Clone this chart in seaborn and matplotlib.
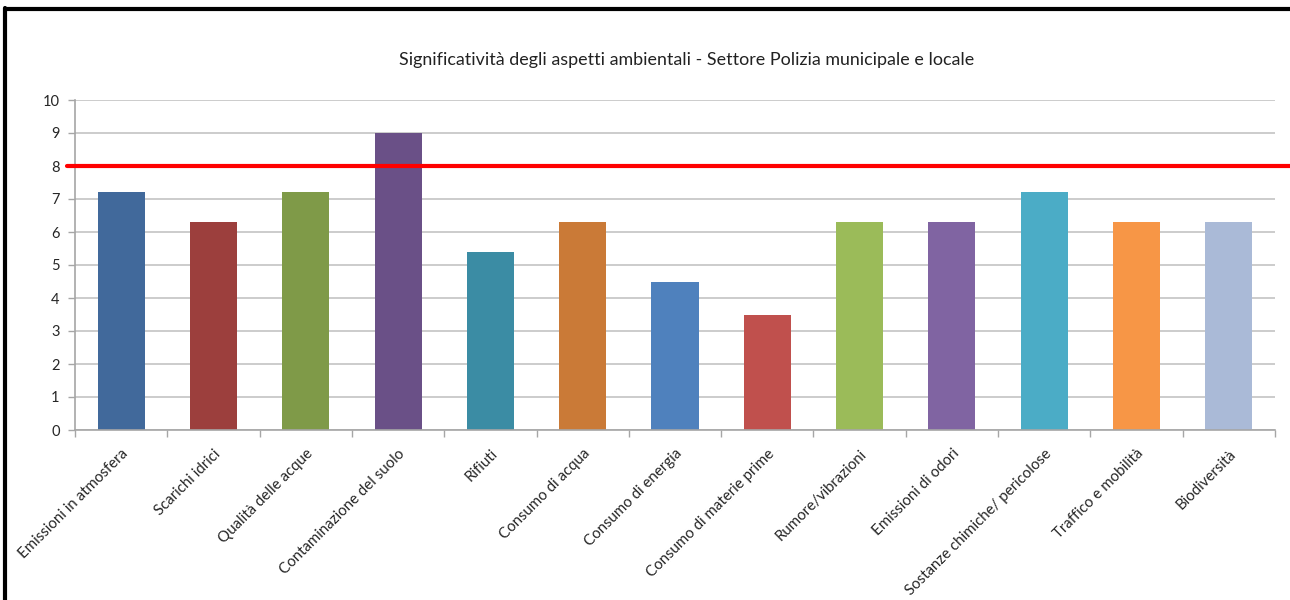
import matplotlib
matplotlib.use("Agg")
import matplotlib.pyplot as plt
from matplotlib.lines import Line2D
import seaborn as sns
import pandas as pd
import numpy as np

categories = [
    "Emissioni in atmosfera", "Scarichi idrici", "Qualità delle acque",
    "Contaminazione del suolo", "Rifiuti", "Consumo di acqua",
    "Consumo di energia", "Consumo di materie prime", "Rumore/vibrazioni",
    "Emissioni di odori", "Sostanze chimiche/ pericolose", "Traffico e mobilità",
    "Biodiversità",
]
values = [7.2, 6.3, 7.2, 9.0, 5.4, 6.3, 4.5, 3.5, 6.3, 6.3, 7.2, 6.3, 6.3]
threshold = 8
title = "Significatività degli aspetti ambientali - Settore Polizia municipale e locale"

colors = [
    "#41699B", "#9C3F3D", "#7F9A48", "#6A5087", "#3B8CA4", "#CA7A37",
    "#4F81BD", "#C0504D", "#9BBB59", "#8064A2", "#4BACC6", "#F79646",
    "#AABAD7",
]

sns.set_theme(style="white")
plt.rcParams["font.family"] = ["Lato", "DejaVu Sans"]

df = pd.DataFrame({"aspetto": categories, "valore": values})

fig = plt.figure(figsize=(12.9, 6), dpi=100)
ax = fig.add_axes([75 / 1290, 170 / 600, 1200 / 1290, 330 / 600])

sns.barplot(data=df, x="aspetto", y="valore", hue="aspetto", palette=colors,
            legend=False, width=0.51, ax=ax, saturation=1, linewidth=0)

ax.set_ylim(0, 10)
ax.set_xlim(-0.5, len(categories) - 0.5)
ax.set_yticks(range(0, 11))
ax.yaxis.grid(True, color="#C4C4C4", linewidth=1.2)
ax.set_axisbelow(True)
ax.set_xlabel("")
ax.set_ylabel("")

for side in ["top", "right"]:
    ax.spines[side].set_visible(False)
for side in ["left", "bottom"]:
    ax.spines[side].set_color("#A6A6A6")
    ax.spines[side].set_linewidth(1.2)

ax.tick_params(axis="y", which="major", direction="out", length=5, width=1,
               color="#A6A6A6", labelsize=10.5, pad=6, left=True)
ax.set_xticks(np.arange(len(categories)))
ax.set_xticklabels(categories, rotation=45, ha="right", rotation_mode="anchor",
                   fontsize=10.8)
ax.tick_params(axis="x", which="major", length=0, pad=12)
ax.set_xticks(np.arange(-0.5, len(categories), 1), minor=True)
ax.tick_params(axis="x", which="minor", direction="out", length=5, width=1,
               color="#A6A6A6", bottom=True)

# significance threshold
ax.axhline(threshold, xmin=-8 / 1200, xmax=1215 / 1200, color="#FF0000",
           linewidth=3, clip_on=False, zorder=5)

fig.text(687 / 1290, 1 - 60 / 600, title, ha="center", va="center",
         fontsize=12.9, color="#222222")

# chart frame
fig.add_artist(Line2D([5 / 1290, 5 / 1290], [0, 1 - 8 / 600], color="black",
                      linewidth=3, transform=fig.transFigure))
fig.add_artist(Line2D([5 / 1290, 1], [1 - 9 / 600, 1 - 9 / 600], color="black",
                      linewidth=3, transform=fig.transFigure))

fig.savefig("out.png", dpi=100, facecolor="white")
